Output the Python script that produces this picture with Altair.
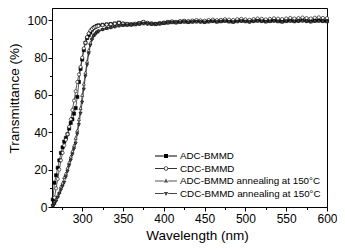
import altair as alt
import pandas as pd

series_names = [
    "ADC-BMMD",
    "CDC-BMMD",
    "ADC-BMMD annealing at 150°C",
    "CDC-BMMD annealing at 150°C",
]

wl_rise = list(range(264, 320, 2))   # 264..318
wl_flat = list(range(320, 601, 5))   # 320..600

adc_rise = [4, 13, 17, 21, 25, 29, 32, 35, 37, 39, 42, 45, 47, 50, 53, 59, 67, 74,
            79, 84, 88, 90.5, 92, 93.5, 95, 96, 96.5, 97]
cdc_rise = [1, 5, 10, 15, 20, 25, 29, 33, 36, 39, 43, 47, 52, 57, 62, 67, 71, 75,
            80, 85, 88, 91, 93, 94.5, 95.3, 96, 96.5, 96.8]
adca_rise = [1, 2, 4, 6, 8, 11, 13, 16, 18, 21, 24, 27, 30, 33, 37, 41, 47, 53,
             60, 66, 72, 78, 84, 88, 90.5, 92, 93, 93.8]
cdca_rise = [0.5, 1.5, 3, 5, 7, 9, 11, 13, 16, 19, 22, 25, 28, 31, 34, 39, 44, 50,
             56, 63, 70, 76, 82, 86.5, 89.5, 91.5, 92.5, 93.5]

adc_flat = [97.3, 97.6, 97.8, 98.0, 98.3, 98.8, 98.2, 98.0, 97.8, 98.0,
            98.5, 99.0, 98.5, 98.2, 98.0, 98.3, 98.6, 99.0, 99.2, 99.0,
            99.3, 99.5, 99.2, 99.4, 99.6, 99.5, 99.3, 99.6, 99.8, 99.5,
            99.7, 99.9, 99.6, 99.4, 99.8, 100.0, 99.7, 99.5, 99.8, 100.1,
            99.9, 99.6, 99.8, 100.0, 99.7, 99.5, 99.8, 100.0, 99.7, 99.9,
            100.1, 99.8, 99.6, 99.9, 100.0, 99.8, 99.7]
cdc_flat = [97.0, 97.4, 97.7, 97.9, 98.2, 98.6, 98.3, 98.1, 98.0, 98.2,
            98.6, 99.2, 98.7, 98.3, 98.2, 98.5, 98.8, 99.2, 99.4, 99.2,
            99.6, 99.8, 99.6, 99.9, 100.2, 100.0, 99.8, 100.2, 100.4, 100.1,
            100.3, 100.6, 100.4, 100.2, 100.6, 100.8, 100.5, 100.3, 100.7, 101.0,
            100.8, 100.5, 100.8, 101.1, 100.9, 100.7, 101.0, 101.3, 101.0, 101.2,
            101.5, 101.2, 101.0, 101.4, 101.6, 101.3, 101.2]
adca_flat = [94.5, 95.3, 95.8, 96.3, 96.7, 97.2, 97.4, 97.5, 97.6, 97.8,
             98.0, 98.3, 98.2, 98.0, 98.1, 98.3, 98.5, 98.7, 98.9, 98.8,
             99.0, 99.2, 99.0, 99.2, 99.3, 99.2, 99.0, 99.3, 99.5, 99.2,
             99.4, 99.6, 99.3, 99.1, 99.4, 99.6, 99.4, 99.2, 99.5, 99.7,
             99.5, 99.3, 99.5, 99.7, 99.4, 99.2, 99.5, 99.7, 99.4, 99.6,
             99.8, 99.5, 99.3, 99.6, 99.7, 99.5, 99.4]
cdca_flat = [94.0, 94.9, 95.5, 96.0, 96.5, 97.0, 97.2, 97.3, 97.5, 97.7,
             97.9, 98.2, 98.0, 97.9, 98.0, 98.2, 98.4, 98.6, 98.8, 98.7,
             98.9, 99.1, 98.9, 99.1, 99.2, 99.1, 98.9, 99.2, 99.4, 99.1,
             99.3, 99.5, 99.2, 99.0, 99.3, 99.5, 99.3, 99.1, 99.4, 99.6,
             99.4, 99.2, 99.4, 99.6, 99.3, 99.1, 99.4, 99.6, 99.3, 99.5,
             99.7, 99.4, 99.2, 99.5, 99.6, 99.4, 99.3]

x_major = [300, 350, 400, 450, 500, 550, 600]
x_minor = [275, 325, 375, 425, 475, 525, 575]
y_major = [0, 20, 40, 60, 80, 100]
y_minor = [10, 30, 50, 70, 90]

values = [adc_rise + adc_flat, cdc_rise + cdc_flat,
          adca_rise + adca_flat, cdca_rise + cdca_flat]
wl = wl_rise + wl_flat
rows = []
for name, vals in zip(series_names, values):
    for w, v in zip(wl, vals):
        rows.append({"series": name, "wl": w, "T": v})
df = pd.DataFrame(rows)

marker_shapes = ["square", "circle", "triangle-up", "triangle-down"]
marker_fills = ["black", "white", "white", "#555555"]

seg = "M-2.2,-0.09H-0.45V0.09H-2.2Z M0.45,-0.09H2.2V0.09H0.45Z "
legend_shapes = [
    seg + "M-0.4,-0.4H0.4V0.4H-0.4Z",
    seg + "M0.45,0A0.45,0.45,0,1,1,-0.45,0A0.45,0.45,0,1,1,0.45,0Z "
          "M0.28,0A0.28,0.28,0,1,0,-0.28,0A0.28,0.28,0,1,0,0.28,0Z",
    seg + "M0,-0.5L0.46,0.32H-0.46Z",
    seg + "M0,0.5L0.46,-0.32H-0.46Z",
]
legend_fills = ["black", "#333333", "#555555", "#444444"]

xscale = alt.Scale(domain=[263, 600], nice=False, zero=False)
yscale = alt.Scale(domain=[0, 106.6], nice=False)

lines = alt.Chart(df).mark_line(color="#333333", strokeWidth=0.8).encode(
    x=alt.X("wl:Q", scale=xscale,
            axis=alt.Axis(values=x_major, title="Wavelength (nm)", orient="bottom",
                          tickSize=4, labelOverlap=False, labelFlush=False,
                          labelPadding=2, titleX=145, titleY=21)),
    y=alt.Y("T:Q", scale=yscale,
            axis=alt.Axis(values=y_major, title="Transmittance (%)", orient="left",
                          tickSize=4, labelOverlap=False, labelFlush=False,
                          labelPadding=1, titlePadding=5, titleY=90)),
    detail="series:N")

points = alt.Chart(df).mark_point(size=10, stroke="black", strokeWidth=0.6, opacity=1).encode(
    x=alt.X("wl:Q", scale=xscale,
            axis=alt.Axis(values=x_minor, title=None, orient="bottom", labels=False,
                          domain=False, tickSize=2.5)),
    y=alt.Y("T:Q", scale=yscale,
            axis=alt.Axis(values=y_minor, title=None, orient="left", labels=False,
                          domain=False, tickSize=2.5)),
    shape=alt.Shape("series:N", scale=alt.Scale(domain=series_names, range=marker_shapes), legend=None),
    fill=alt.Fill("series:N", scale=alt.Scale(domain=series_names, range=marker_fills), legend=None),
)

leg = alt.Legend(title=None, orient="none", legendX=109, legendY=143,
                 symbolSize=100, symbolOpacity=1, symbolStrokeWidth=0,
                 labelFontSize=9.8, labelOffset=9,
                 rowPadding=2.5, padding=0, labelFont="Liberation Sans",
                 labelColor="black", labelLimit=200)

leg_df = pd.DataFrame({"series": series_names})
legend_layer = alt.Chart(leg_df).mark_point(size=0, filled=True, opacity=1).encode(
    shape=alt.Shape("series:N", scale=alt.Scale(domain=series_names, range=legend_shapes), legend=leg),
    fill=alt.Fill("series:N", scale=alt.Scale(domain=series_names, range=legend_fills), legend=leg),
)

chart = alt.layer(lines, points, legend_layer).resolve_scale(
    shape="independent", fill="independent"
).resolve_axis(
    x="independent", y="independent"
).properties(
    width=275, height=199,
    autosize=alt.AutoSizeParams(type="none"),
    padding={"left": 44, "top": 0, "right": 10, "bottom": 40},
).configure_view(
    stroke="black", strokeWidth=1
).configure_axis(
    grid=False, domainColor="black", tickColor="black", labelColor="black",
    titleColor="black", labelFont="Liberation Sans", titleFont="Liberation Sans",
    labelFontSize=12, titleFontSize=13.5, titleFontWeight="normal", domainWidth=1,
    tickWidth=1,
)

chart.save("out.html", embed_options={"renderer": "svg", "actions": False})
